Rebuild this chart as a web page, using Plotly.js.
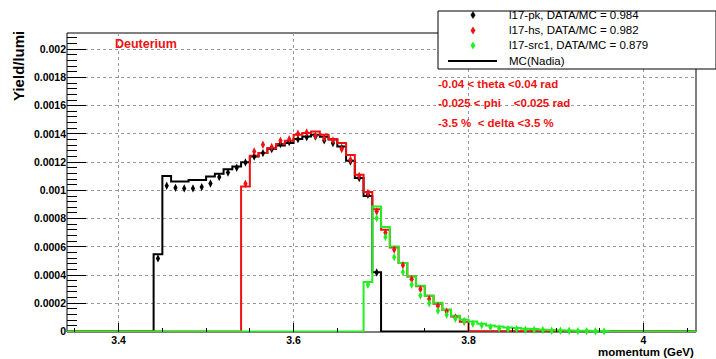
<!DOCTYPE html>
<html>
<head>
<meta charset="utf-8">
<script src="https://cdn.plot.ly/plotly-3.0.1.min.js"></script>
<style>html,body{margin:0;padding:0;background:#fff;}#chart{width:716px;height:359px;}</style>
</head>
<body>
<div id="chart"></div>
<script>
// ---------------- data ----------------
const BIN = 0.01;                 // GeV bin width
const X_RANGE = [3.341, 4.06];
const Y_RANGE = [-0.0000035, 0.002115];

// MC (Nadia) histograms, one value per 0.01 GeV bin
const mcPkStart = 3.44;
const mcPk = [0.000548, 0.001101, 0.001063, 0.001063, 0.001073, 0.001073, 0.001099, 0.001118, 0.00115, 0.00117,
              0.0012, 0.00124, 0.001264, 0.001295, 0.001318, 0.001335, 0.001364, 0.001382, 0.001394, 0.00138,
              0.00136, 0.00131, 0.00121, 0.001087, 0.00096, 0.00042];
const mcHsStart = 3.54;
const mcHs = [0.001028, 0.001245, 0.001264, 0.0013, 0.001328, 0.001352, 0.001394, 0.001406, 0.001417, 0.001394,
              0.001364, 0.001335, 0.00125, 0.00111, 0.000988, 0.000867, 0.000721, 0.000595, 0.000485, 0.00039,
              0.00032, 0.000253, 0.000196, 0.000154, 0.000106, 0.00007];
const mcSrcStart = 3.68;
const mcSrc = [0.00035, 0.000886, 0.00074, 0.000602, 0.000485, 0.00039, 0.000324, 0.000253, 0.000203, 0.000154,
               0.000112, 0.000085, 0.000071, 0.000055, 0.000043, 0.000035, 0.000028, 0.000024, 0.00002, 0.000018,
               0.000012, 0.00001, 0.000009, 0.000007, 0.000006, 0.000005, 0.000004, 0.000003];

// DATA points (bin centres follow the same binning)
const dataPk = [0.000518, 0.001033, 0.001018, 0.001014, 0.001014, 0.001023, 0.001049, 0.001094, 0.001127, 0.00116,
                0.001198, 0.00124, 0.001264, 0.001292, 0.001328, 0.001342, 0.001363, 0.001377, 0.001382, 0.001354,
                0.001335, 0.0013, 0.001205, 0.001087, 0.000969, 0.000418];
const dataHs = [0.001047, 0.001276, 0.001323, 0.001307, 0.001352, 0.001363, 0.001401, 0.00141, 0.001387, 0.00137,
                0.001354, 0.001293, 0.001217, 0.001103, 0.000981, 0.00085, 0.0007, 0.00058, 0.00047, 0.00037,
                0.0003, 0.00023, 0.00018, 0.00014, 0.0001, 0.00007];
const dataSrc = [0.000331, 0.000803, 0.000669, 0.000527, 0.000421, 0.000331, 0.000255, 0.0002, 0.000147, 0.000118,
                 0.00009, 0.000071, 0.000055, 0.000045, 0.000031, 0.000021, 0.000017, 0.000017, 0.000012, 0.000012,
                 0.00001, 0.000005, 0.000005, 0.000005, 0.000003, 0.000003, 0.000002, 0.000001];

const legendLabels = ["l17-pk, DATA/MC = 0.984", "l17-hs, DATA/MC = 0.982", "l17-src1, DATA/MC = 0.879", "MC(Nadia)"];
const cutLabels = ["-0.04 < theta <0.04 rad", "-0.025 < phi \u00a0\u00a0\u00a0<0.025 rad", "-3.5 % \u00a0< delta <3.5 %"];
const targetLabel = "Deuterium";
const xTickVals = [3.4, 3.6, 3.8, 4];
const xTickText = ["3.4", "3.6", "3.8", "4"];
const yTickVals = [0, 0.0002, 0.0004, 0.0006, 0.0008, 0.001, 0.0012, 0.0014, 0.0016, 0.0018, 0.002];
const yTickText = ["0", "0.0002", "0.0004", "0.0006", "0.0008", "0.001", "0.0012", "0.0014", "0.0016", "0.0018", "0.002"];

// ---------------- styling ----------------
const W = 716, H = 359;
const M = {l: 67, r: 20, t: 33, b: 27};
const PW = W - M.l - M.r, PH = H - M.t - M.b;
const FONT = "'Liberation Sans', Arial, Helvetica, sans-serif";
const RED = '#ee1111', GREEN = '#22ee22', BLACK = '#000000';

const px = v => (v - M.l) / PW;          // pixel -> paper x
const py = v => (H - M.b - v) / PH;      // pixel -> paper y

function histLine(start, vals) {
  const xs = [X_RANGE[0]], ys = [0];
  vals.forEach((v, i) => { xs.push(start + i * BIN); ys.push(v); });
  xs.push(start + vals.length * BIN); ys.push(0);
  xs.push(X_RANGE[1]); ys.push(0);
  return {xs, ys};
}
function centers(start, vals) { return vals.map((v, i) => start + (i + 0.5) * BIN); }

const traces = [];
[[mcPkStart, mcPk, BLACK], [mcHsStart, mcHs, RED], [mcSrcStart, mcSrc, GREEN]].forEach(([s, v, c]) => {
  const h = histLine(s, v);
  traces.push({x: h.xs, y: h.ys, type: 'scatter', mode: 'lines', line: {shape: 'hv', color: c, width: 2},
               showlegend: false, hoverinfo: 'skip'});
});
[[mcPkStart, dataPk, BLACK, legendLabels[0]], [mcHsStart, dataHs, RED, legendLabels[1]], [mcSrcStart, dataSrc, GREEN, legendLabels[2]]]
  .forEach(([s, v, c, n]) => {
    traces.push({x: centers(s, v), y: v, type: 'scatter', mode: 'markers', name: n,
                 marker: {symbol: 'diamond-tall', size: 6, color: c}, showlegend: false, cliponaxis: false});
  });

const annotations = [];
const shapes = [];
// frame
shapes.push({type: 'rect', xref: 'paper', yref: 'paper', x0: 0, x1: 1, y0: 0, y1: 1, layer: 'below',
             line: {color: BLACK, width: 1}});
// axis titles
annotations.push({text: 'Yield/lumi', xref: 'paper', yref: 'paper', x: px(18), y: py(66), textangle: -90,
                  showarrow: false, xanchor: 'center', yanchor: 'middle',
                  font: {family: FONT, size: 15, weight: 'bold', color: BLACK}});
annotations.push({text: 'momentum (GeV)', xref: 'paper', yref: 'paper', x: px(696), y: py(351.5),
                  showarrow: false, xanchor: 'right', yanchor: 'middle',
                  font: {family: FONT, size: 11.5, weight: 'bold', color: BLACK}});
// target label and cuts
annotations.push({text: targetLabel, xref: 'paper', yref: 'paper', x: px(113), y: py(44), showarrow: false,
                  xanchor: 'left', yanchor: 'middle', font: {family: FONT, size: 12.5, weight: 'bold', color: RED}});
[84, 103, 123].forEach((yy, i) => annotations.push({text: cutLabels[i], xref: 'paper', yref: 'paper',
  x: px(436), y: py(yy), showarrow: false, xanchor: 'left', yanchor: 'middle',
  font: {family: FONT, size: 11.5, weight: 'bold', color: RED}}));
// legend box
shapes.push({type: 'rect', xref: 'paper', yref: 'paper', x0: px(438), x1: px(716), y0: py(69), y1: py(11),
             fillcolor: '#ffffff', line: {color: BLACK, width: 1}, layer: 'above'});
const legRows = [15, 30.5, 45.5, 61];
const legColors = [BLACK, RED, GREEN];
legRows.forEach((yy, i) => {
  annotations.push({text: legendLabels[i], xref: 'paper', yref: 'paper', x: px(507), y: py(yy), showarrow: false,
                    xanchor: 'left', yanchor: 'middle', font: {family: FONT, size: 11.5, color: BLACK}});
  if (i < 3) {
    const cx = 473, cy = yy, hw = 2.2, hh = 3.6;
    shapes.push({type: 'path', xref: 'paper', yref: 'paper', layer: 'above',
      path: `M ${px(cx)} ${py(cy - hh)} L ${px(cx + hw)} ${py(cy)} L ${px(cx)} ${py(cy + hh)} L ${px(cx - hw)} ${py(cy)} Z`,
      fillcolor: legColors[i], line: {color: legColors[i], width: 0.5}});
  } else {
    shapes.push({type: 'line', xref: 'paper', yref: 'paper', layer: 'above', x0: px(448), x1: px(497), y0: py(yy), y1: py(yy),
                 line: {color: BLACK, width: 2}});
  }
});

const layout = {
  width: W, height: H, margin: M, paper_bgcolor: '#ffffff', plot_bgcolor: '#ffffff', showlegend: false,
  font: {family: FONT, color: BLACK},
  xaxis: {range: X_RANGE, tickmode: 'array', tickvals: xTickVals, ticktext: xTickText, ticks: 'inside', ticklen: 9,
          tickcolor: BLACK, tickwidth: 1, showline: false, zeroline: false, showgrid: true, gridcolor: '#9a9a9a',
          griddash: 'dot', gridwidth: 1, tickfont: {family: FONT, size: 10.5, weight: 'bold', color: BLACK},
          minor: {tick0: 3.4, dtick: 0.05, ticks: 'inside', ticklen: 4.5, tickcolor: BLACK, showgrid: false}},
  yaxis: {range: Y_RANGE, tickmode: 'array', tickvals: yTickVals, ticktext: yTickText, ticks: 'inside', ticklen: 19,
          tickcolor: BLACK, tickwidth: 1, showline: false, zeroline: false, showgrid: true, gridcolor: '#9a9a9a',
          griddash: 'dot', gridwidth: 1, tickfont: {family: FONT, size: 10.5, weight: 'bold', color: BLACK},
          minor: {tick0: 0, dtick: 0.00004, ticks: 'inside', ticklen: 9.5, tickcolor: BLACK, showgrid: false}},
  annotations, shapes
};

Plotly.newPlot('chart', traces, layout, {staticPlot: true, displayModeBar: false});
</script>
</body>
</html>
